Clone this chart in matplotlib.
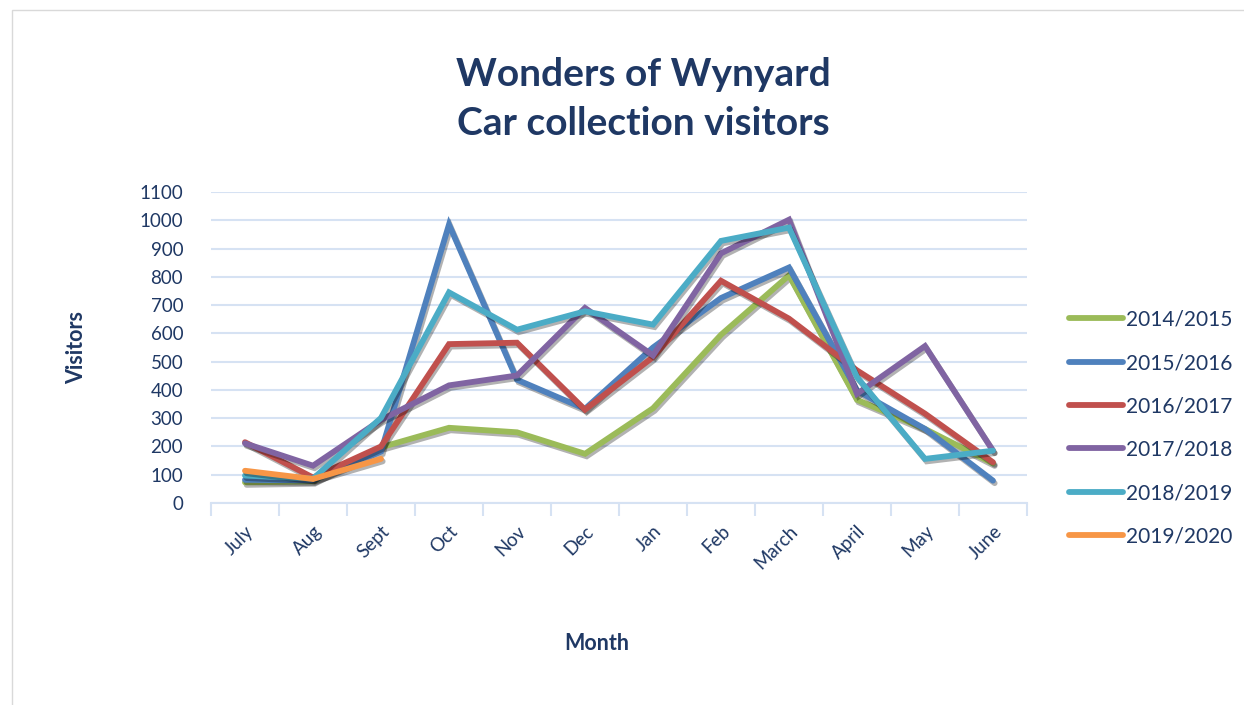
import numpy as np
import matplotlib
matplotlib.use("Agg")
import matplotlib.pyplot as plt
import matplotlib.patheffects as pe
from matplotlib.patches import Rectangle
from matplotlib.lines import Line2D

plt.rcParams['font.family'] = ['Lato', 'DejaVu Sans']

months = ["July", "Aug", "Sept", "Oct", "Nov", "Dec", "Jan", "Feb", "March",
          "April", "May", "June"]
seasons = ["2014/2015", "2015/2016", "2016/2017", "2017/2018", "2018/2019", "2019/2020"]

v_2014 = [73, 77, 197, 266, 250, 174, 335, 595, 805, 365, 262, 140]
v_2015 = [82, 80, 182, 985, 436, 333, 550, 725, 833, 398, 262, 79]
v_2016 = [215, 90, 200, 562, 567, 330, 516, 786, 652, 469, 316, 144]
v_2017 = [211, 132, 294, 416, 451, 690, 522, 883, 1002, 386, 555, 185]
v_2018 = [97, 86, 301, 745, 613, 678, 631, 927, 974, 445, 156, 185]
v_2019 = [114, 85, 156]

series = [v_2014, v_2015, v_2016, v_2017, v_2018, v_2019]
colors = ["#9BBB59", "#4F81BD", "#C0504D", "#8064A2", "#4BACC6", "#F79646"]

navy = "#1F3864"
grid_c = "#D6E2F3"

fig = plt.figure(figsize=(12.44, 7.05), dpi=100)
# chart border
fig.patches.append(Rectangle((12 / 1244, -0.01), 1.1, 1 - 10 / 705 + 0.01,
                             transform=fig.transFigure, fill=False,
                             edgecolor="#D9D9D9", linewidth=1.0))

ax = fig.add_axes([211 / 1244, 1 - 503 / 705, 816 / 1244, 311 / 705])

shadow = [pe.SimpleLineShadow(offset=(1.2, -1.8), shadow_color="k", alpha=0.3), pe.Normal()]
x = np.arange(len(months))
for vals, c, lab in zip(series, colors, seasons):
    ax.plot(x[:len(vals)], vals, color=c, lw=4.2, label=lab, solid_capstyle="round",
            solid_joinstyle="miter", path_effects=shadow, zorder=3)

ax.set_xlim(-0.5, 11.5)
ax.set_ylim(0, 1100)
ax.set_yticks(np.arange(0, 1101, 100))
ax.yaxis.grid(True, color=grid_c, lw=1.5)
ax.set_axisbelow(True)
for s in ["top", "right", "left"]:
    ax.spines[s].set_visible(False)
ax.spines["bottom"].set_color(grid_c)
ax.spines["bottom"].set_linewidth(1.5)

ax.set_xticks(np.arange(-0.5, 12, 1), minor=False)
ax.set_xticklabels([])
ax.set_xticks(x, minor=True)
ax.set_xticklabels(months, minor=True, rotation=45, ha="right", rotation_mode="anchor",
                   fontsize=13.5, color=navy)
ax.tick_params(axis="x", which="major", length=9, color=grid_c, width=1.5)
ax.tick_params(axis="x", which="minor", length=0, pad=14)
ax.tick_params(axis="y", length=0, labelsize=13.5, labelcolor=navy, pad=20)

ax.set_ylabel("Visitors", fontsize=15.5, fontweight="bold", color=navy, labelpad=38)
fig.text(597 / 1244, 1 - 644 / 705, "Month", fontsize=15.5, fontweight="bold",
         color=navy, ha="center", va="center")

fig.text(643 / 1244, 1 - 99 / 705, "Wonders of Wynyard\nCar collection visitors",
         fontsize=28, fontweight="bold", color=navy, ha="center", va="center",
         linespacing=1.48)

handles = [Line2D([], [], color=c, lw=4.2, solid_capstyle="round") for c in colors]
leg = fig.legend(handles, seasons, loc="center left", bbox_to_anchor=(1050 / 1244, 1 - 428 / 705),
                 frameon=False, fontsize=15, labelcolor=navy, handlelength=2.6,
                 handletextpad=0.15, labelspacing=1.12)

fig.savefig("out.png", dpi=100)
